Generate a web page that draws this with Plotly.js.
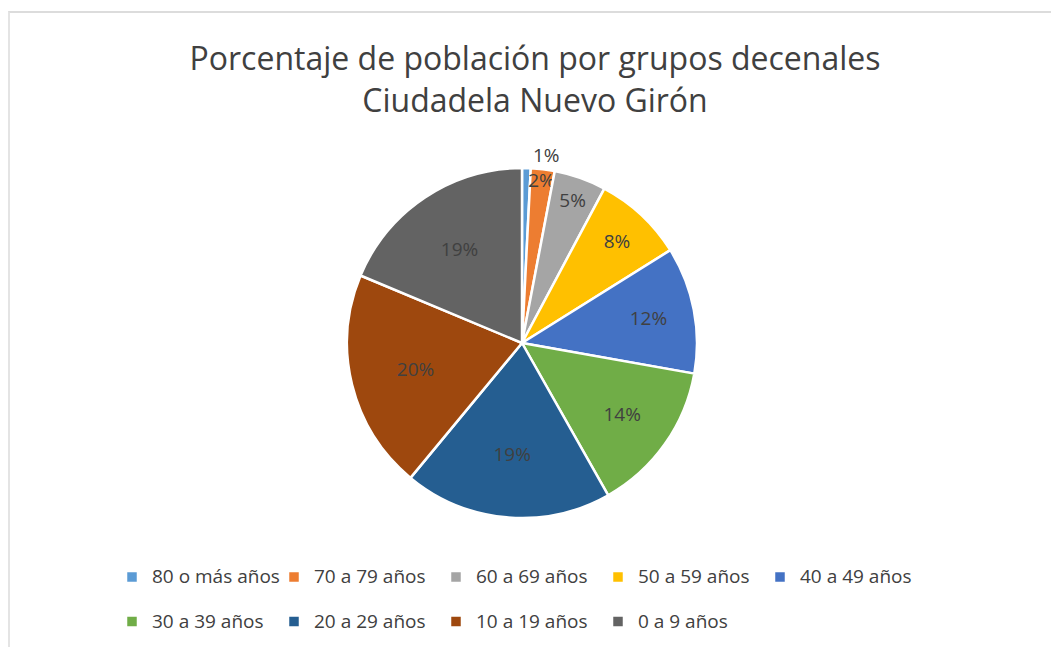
<!DOCTYPE html>
<html>
<head>
<meta charset="utf-8">
<script src="https://cdn.plot.ly/plotly-3.0.1.min.js"></script>
<style>
  html, body { margin: 0; padding: 0; background: #ffffff; }
  #frame { position: absolute; left: 8px; top: 11px; width: 1060px; height: 660px;
           border-top: 2px solid #dcdcdc; border-left: 2px solid #e4e4e4; }
  #chart { position: absolute; left: 0; top: 0; width: 1051px; height: 647px; }
</style>
</head>
<body>
<div id="frame"></div>
<div id="chart"></div>
<script>
const categories = ["80 o más años", "70 a 79 años", "60 a 69 años", "50 a 59 años", "40 a 49 años",
                    "30 a 39 años", "20 a 29 años", "10 a 19 años", "0 a 9 años"];
const percentages = [0.8, 2.2, 4.8, 8.3, 11.7, 14.0, 19.2, 20.3, 18.7];
const colors = ["#5B9BD5", "#ED7D31", "#A5A5A5", "#FFC000", "#4472C4",
                "#70AD47", "#255E91", "#9E480E", "#636363"];
const titleText = "Porcentaje de población por grupos decenales<br>Ciudadela Nuevo Girón";

const W = 1051, H = 647;
const ML = 60, MR = 60;
const GW = W - ML - MR;
const FONT = "'Open Sans', sans-serif";

// legend entries: same categories, with an empty second line to widen the row spacing
const legendLabels = categories.map(c => '<span style="font-size:19px">' + c + '</span><br> ');

const trace = {
  type: "pie",
  labels: legendLabels,
  values: percentages,
  sort: false,
  direction: "clockwise",
  rotation: 0,
  marker: { colors: colors, line: { color: "#ffffff", width: 2.5 } },
  texttemplate: "%{percent:.0%}",
  textposition: ["outside", "inside", "inside", "inside", "inside", "inside", "inside", "inside", "inside"],
  insidetextorientation: "horizontal",
  textfont: { family: FONT, size: 19, color: "#404040" },
  outsidetextfont: { family: FONT, size: 19, color: "#404040" },
  hoverinfo: "percent",
  domain: { x: [(347 - ML) / GW, (697 - ML) / GW], y: [1 - 518 / H, 1 - 168 / H] }
};

const layout = {
  width: W, height: H,
  margin: { l: ML, r: MR, t: 0, b: 0, autoexpand: false },
  paper_bgcolor: "rgba(0,0,0,0)",
  plot_bgcolor: "rgba(0,0,0,0)",
  title: {
    text: titleText,
    x: 535 / W, xanchor: "center",
    y: 1 - 70 / H, yanchor: "top",
    font: { family: FONT, size: 32, color: "#404040" }
  },
  uniformtext: { mode: "show", minsize: 19 },
  showlegend: true,
  legend: {
    orientation: "h",
    x: (112 - ML) / GW, xanchor: "left",
    y: 1 - 560 / H, yanchor: "top",
    entrywidth: 117, entrywidthmode: "pixels",
    traceorder: "normal",
    valign: "top",
    font: { family: FONT, size: 16, color: "#404040" },
    itemwidth: 30,
    tracegroupgap: 0
  }
};

Plotly.newPlot("chart", [trace], layout, { displayModeBar: false, staticPlot: true });
</script>
</body>
</html>
